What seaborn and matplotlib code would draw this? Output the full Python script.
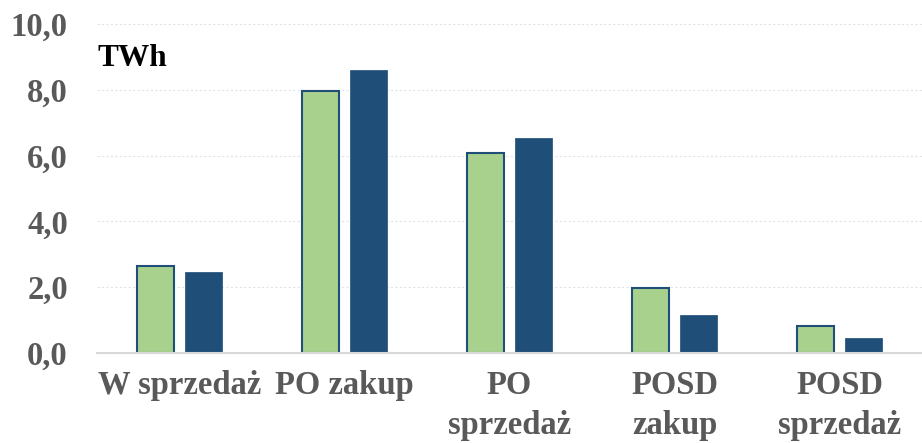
import matplotlib
matplotlib.use("Agg")
import matplotlib.pyplot as plt
import seaborn as sns
import pandas as pd

categories = ["W sprzedaż", "PO zakup", "PO\nsprzedaż", "POSD\nzakup", "POSD\nsprzedaż"]
series_names = ["A", "B"]
values_a = [2.64, 7.96, 6.08, 1.98, 0.82]
values_b = [2.46, 8.60, 6.53, 1.15, 0.46]
y_ticks = [0, 2, 4, 6, 8, 10]
y_tick_labels = ["0,0", "2,0", "4,0", "6,0", "8,0", "10,0"]
unit_label = "TWh"

df = pd.DataFrame({
    "cat": categories * 2,
    "series": [series_names[0]] * len(categories) + [series_names[1]] * len(categories),
    "val": values_a + values_b,
})

sns.set_style("white")
plt.rcParams["font.family"] = ["Liberation Serif", "DejaVu Serif"]
plt.rcParams["font.weight"] = "bold"

fig = plt.figure(figsize=(9.22, 4.43), dpi=100)
ax = fig.add_axes([97 / 922, 1 - 353 / 443, 1 - 97 / 922, (353 - 24) / 443])

green = "#a9d18e"
blue = "#1f4e79"
sns.barplot(data=df, x="cat", y="val", hue="series", order=categories,
            hue_order=series_names, palette=[green, blue], width=0.576, gap=0.222,
            ax=ax, legend=False, saturation=1)

for i, patch in enumerate(ax.patches):
    if i < len(categories):
        patch.set_edgecolor(blue)
        patch.set_linewidth(1.5)
    else:
        patch.set_edgecolor(blue)
        patch.set_linewidth(0.5)

ax.set_ylim(0, 10)
ax.set_xlim(-0.5, len(categories) - 0.5)
ax.set_yticks(y_ticks)
ax.set_yticklabels(y_tick_labels)
ax.yaxis.grid(True, color="#e3e3e3", linestyle=(0, (2, 2)), linewidth=0.8)
ax.set_axisbelow(True)
for s in ["top", "right", "left"]:
    ax.spines[s].set_visible(False)
ax.spines["bottom"].set_color("#d9d9d9")
ax.spines["bottom"].set_linewidth(1.5)
ax.tick_params(axis="both", length=0, colors="#595959", labelsize=23.5)
ax.tick_params(axis="x", pad=12)
ax.tick_params(axis="y", pad=21)
for lab in ax.get_xticklabels() + ax.get_yticklabels():
    lab.set_fontweight("bold")
    lab.set_color("#595959")
for lab in ax.get_xticklabels():
    lab.set_linespacing(1.4)
ax.set_xlabel("")
ax.set_ylabel("")

ax.text(0.0, 0.895, unit_label, transform=ax.transAxes, fontsize=22.5,
        fontweight="bold", color="black", ha="left", va="center")

fig.savefig("out.png", dpi=100)
